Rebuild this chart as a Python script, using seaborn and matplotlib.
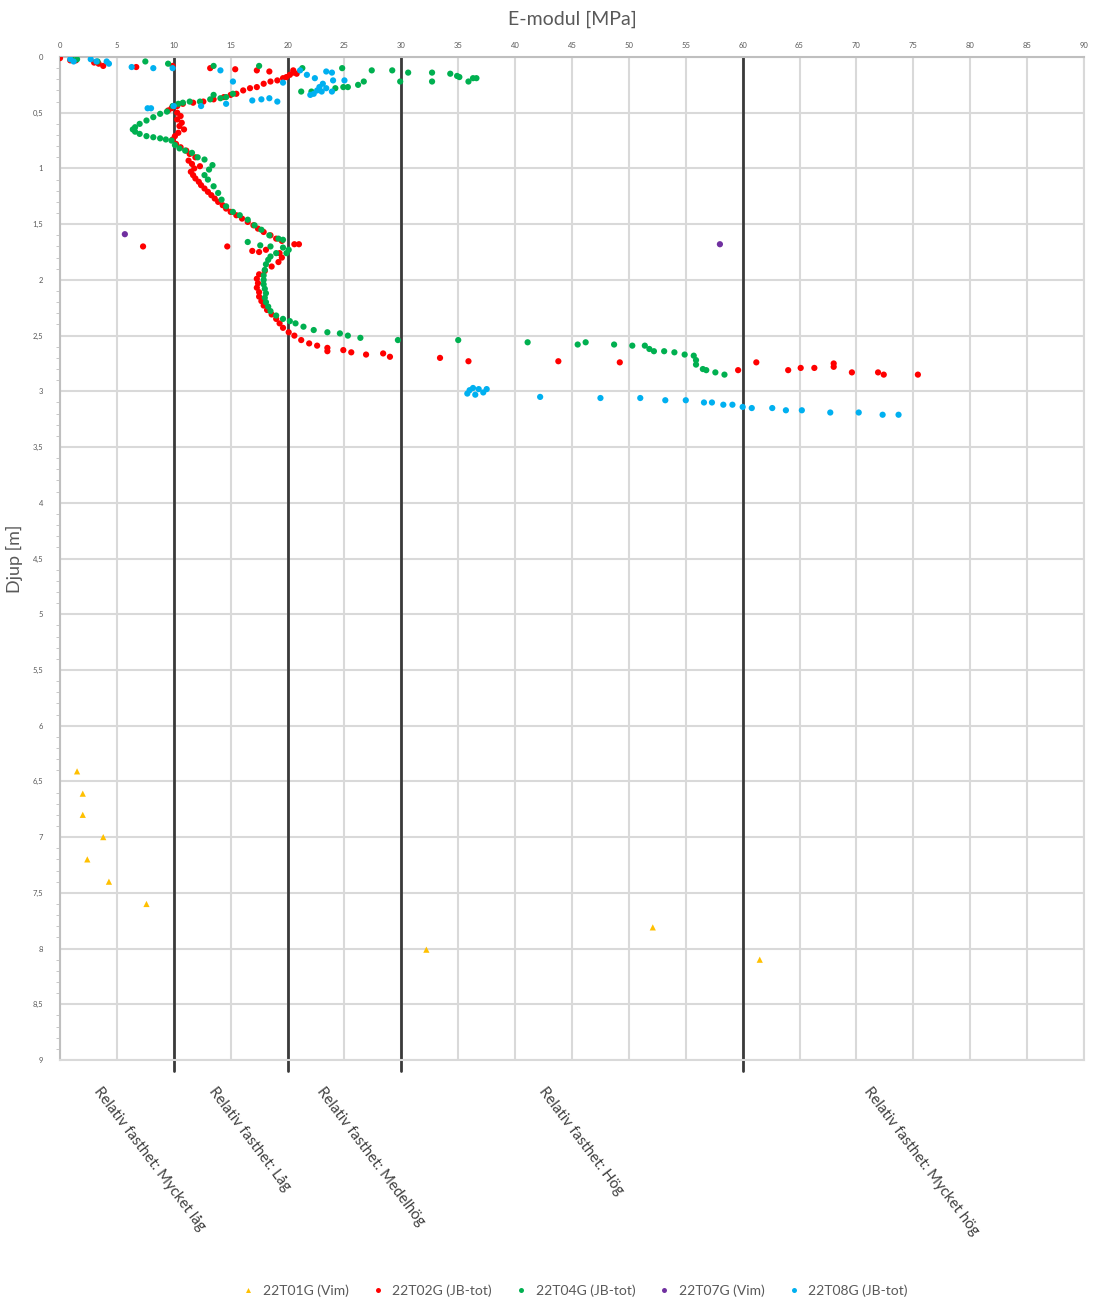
import matplotlib
matplotlib.use("Agg")
import matplotlib.pyplot as plt
from matplotlib.ticker import MultipleLocator, FuncFormatter
import pandas as pd
import seaborn as sns

# 22T01G (Vim) - yellow triangles
t01_E = [1.5, 2.0, 2.0, 3.8, 2.4, 4.3, 7.6, 32.2, 52.1, 61.5]
t01_d = [6.41, 6.61, 6.80, 7.00, 7.20, 7.40, 7.60, 8.01, 7.81, 8.10]

# 22T07G (Vim) - purple
t07_E = [5.7, 58.0]
t07_d = [1.59, 1.68]

# 22T02G (JB-tot) - red
t02_E = [0.0, 0.9, 1.4, 3.0, 3.4, 3.8, 6.7, 9.9, 13.2, 15.4, 17.3, 18.4,
         20.5, 20.8, 20.2, 20.5, 19.9, 19.6, 19.1, 18.5, 17.9, 17.3, 16.7, 16.1,
         15.5, 15.0, 14.4, 13.5, 12.6, 11.7, 10.8, 10.3, 9.8, 9.5,
         10.3, 10.6, 10.3, 10.7, 10.5, 10.9, 10.4, 10.1, 9.9, 10.2, 10.6, 11.1,
         11.4, 11.9, 11.3, 11.6, 12.3, 11.8, 11.5, 11.7, 11.9, 12.2, 12.4, 12.7,
         13.0, 13.3, 13.6, 13.9, 14.3, 14.6, 15.0, 15.5, 16.0, 16.5, 17.0, 17.4,
         17.9, 18.5, 19.0, 19.5,
         7.3, 14.7, 20.6, 21.0,
         16.9, 17.5, 18.1, 19.3, 19.5, 19.2, 18.6, 18.0, 17.5, 17.3, 17.4, 17.3,
         17.5, 17.5, 17.7, 17.9, 18.2, 18.6, 19.0, 19.3, 19.6, 20.1, 20.6, 21.2,
         21.9, 22.6, 23.5, 23.5, 24.9, 25.6, 26.9, 28.4, 29.0, 33.4, 35.9, 43.8,
         49.2, 59.6, 61.2, 64.0, 65.1, 66.3, 68.0, 68.0, 69.6, 71.9, 72.4, 75.4]
t02_d = [0.01, 0.03, 0.03, 0.05, 0.06, 0.08, 0.09, 0.08, 0.10, 0.11, 0.12, 0.13,
         0.12, 0.15, 0.16, 0.14, 0.18, 0.19, 0.21, 0.22, 0.24, 0.27, 0.28, 0.30,
         0.33, 0.34, 0.36, 0.38, 0.40, 0.41, 0.42, 0.44, 0.46, 0.48,
         0.50, 0.53, 0.56, 0.59, 0.62, 0.65, 0.68, 0.71, 0.74, 0.78, 0.81, 0.84,
         0.87, 0.90, 0.93, 0.96, 0.98, 1.00, 1.03, 1.06, 1.09, 1.12, 1.15, 1.18,
         1.21, 1.24, 1.27, 1.30, 1.33, 1.36, 1.39, 1.42, 1.45, 1.48, 1.51, 1.54,
         1.57, 1.60, 1.63, 1.65,
         1.70, 1.70, 1.68, 1.68,
         1.74, 1.75, 1.73, 1.76, 1.80, 1.84, 1.88, 1.92, 1.95, 1.99, 2.03, 2.07,
         2.11, 2.15, 2.19, 2.23, 2.27, 2.31, 2.35, 2.39, 2.43, 2.47, 2.50, 2.54,
         2.57, 2.59, 2.61, 2.64, 2.63, 2.65, 2.67, 2.66, 2.69, 2.70, 2.73, 2.73,
         2.74, 2.81, 2.74, 2.81, 2.79, 2.79, 2.75, 2.78, 2.83, 2.83, 2.85, 2.85]

# 22T04G (JB-tot) - green
t04_E = [1.0, 1.5, 3.3, 7.5, 9.5, 13.5, 17.5,
         21.3, 24.8, 27.4, 29.2, 30.6, 32.7, 32.7, 34.3, 34.9, 35.1, 35.9, 36.3, 36.6,
         29.9, 26.7, 26.2, 25.3, 24.9, 24.2, 22.1, 21.2,
         15.2, 14.6, 14.1, 13.5, 13.2, 12.3, 11.4, 10.8, 10.4, 9.9,
         9.4, 8.8, 8.2, 7.6, 7.0, 6.6, 6.4, 6.6, 7.0, 7.6, 8.2, 8.8, 9.3, 9.8,
         10.1, 10.5, 11.0, 11.6, 12.1, 12.7, 13.4, 13.1, 12.7, 13.0, 13.5, 13.9,
         14.2, 14.6, 15.2, 15.8, 16.5, 17.1, 17.7, 18.4, 19.2, 19.6,
         16.5, 17.6, 18.5, 19.6, 20.1, 19.9, 19.0, 18.5, 18.3, 18.1, 18.0, 17.9,
         17.9, 17.9, 18.0, 18.1, 18.0, 18.1, 18.3, 18.5, 19.0, 19.6, 20.2, 20.7,
         21.4, 22.3, 23.5, 24.6, 25.3, 26.4, 29.7, 35.0, 41.1, 45.5, 46.2, 48.7,
         50.3, 51.4, 51.8, 52.2, 53.1, 54.0, 54.9, 55.7, 55.9, 55.9, 56.5, 56.8,
         57.6, 58.4]
t04_d = [0.01, 0.02, 0.04, 0.04, 0.06, 0.08, 0.08,
         0.10, 0.10, 0.12, 0.12, 0.14, 0.14, 0.22, 0.15, 0.17, 0.18, 0.22, 0.19, 0.19,
         0.22, 0.22, 0.25, 0.27, 0.27, 0.28, 0.31, 0.31,
         0.33, 0.36, 0.37, 0.34, 0.38, 0.40, 0.40, 0.41, 0.42, 0.44,
         0.49, 0.51, 0.54, 0.57, 0.60, 0.63, 0.65, 0.67, 0.69, 0.71, 0.72, 0.73, 0.74, 0.75,
         0.79, 0.82, 0.84, 0.86, 0.90, 0.92, 0.97, 1.01, 1.06, 1.10, 1.16, 1.22,
         1.28, 1.34, 1.39, 1.42, 1.46, 1.51, 1.55, 1.60, 1.63, 1.64,
         1.66, 1.69, 1.70, 1.71, 1.73, 1.76, 1.76, 1.79, 1.82, 1.86, 1.91, 1.96,
         2.00, 2.04, 2.08, 2.12, 2.16, 2.20, 2.24, 2.28, 2.32, 2.35, 2.37, 2.39,
         2.42, 2.45, 2.47, 2.48, 2.50, 2.52, 2.54, 2.54, 2.56, 2.58, 2.56, 2.58,
         2.59, 2.59, 2.62, 2.64, 2.64, 2.65, 2.67, 2.68, 2.72, 2.76, 2.80, 2.81,
         2.83, 2.85]

# 22T08G (JB-tot) - blue
t08_E = [0.9, 1.2, 2.7, 3.2, 4.1, 4.3, 6.3, 8.2, 9.9, 14.1, 15.2, 7.7, 8.0, 10.0,
         12.4, 14.6, 16.9, 17.7, 18.4, 19.1,
         21.1, 21.7, 22.4, 23.4, 23.9, 24.0, 25.0, 23.1, 22.8, 22.6, 22.3, 22.0,
         23.4, 23.0, 23.9, 19.6,
         35.8, 36.0, 36.3, 36.5, 36.8, 37.2, 37.5, 42.2, 47.5, 51.0, 53.2, 55.0,
         56.6, 57.3, 58.3, 59.1, 60.0, 60.8, 62.6, 63.8, 65.2, 67.7, 70.2, 72.3, 73.7]
t08_d = [0.02, 0.04, 0.02, 0.04, 0.04, 0.06, 0.09, 0.10, 0.10, 0.12, 0.22, 0.46, 0.46, 0.44,
         0.44, 0.42, 0.39, 0.38, 0.37, 0.40,
         0.12, 0.16, 0.19, 0.13, 0.14, 0.21, 0.21, 0.24, 0.27, 0.30, 0.33, 0.34,
         0.28, 0.31, 0.31, 0.23,
         3.02, 2.99, 2.97, 3.03, 2.98, 3.01, 2.98, 3.05, 3.06, 3.06, 3.08, 3.08,
         3.10, 3.10, 3.12, 3.12, 3.14, 3.15, 3.15, 3.17, 3.17, 3.19, 3.19, 3.21, 3.21]

series_names = ["22T01G (Vim)", "22T02G (JB-tot)", "22T04G (JB-tot)", "22T07G (Vim)", "22T08G (JB-tot)"]
series_colors = ["#FFC000", "#FF0000", "#00B050", "#7030A0", "#00B0F0"]

boundaries = [10, 20, 30, 60]
class_labels = ["Relativ fasthet: Mycket låg", "Relativ fasthet: Låg", "Relativ fasthet: Medelhög",
                "Relativ fasthet: Hög", "Relativ fasthet: Mycket hög"]
class_label_x = [3.7, 13.8, 23.3, 42.8, 71.4]

frames = []
for name, E, d in zip(series_names,
                      [t01_E, t02_E, t04_E, t07_E, t08_E],
                      [t01_d, t02_d, t04_d, t07_d, t08_d]):
    frames.append(pd.DataFrame({"E": E, "depth": d, "serie": name}))
df = pd.concat(frames, ignore_index=True)

sns.set_style("white")
plt.rcParams["font.family"] = ["Lato", "DejaVu Sans"]

fig = plt.figure(figsize=(10.94, 13.04), dpi=100)
ax = fig.add_axes([60 / 1094, 1 - 1060 / 1304, 1024 / 1094, 1003 / 1304])

markers = {n: ("^" if n.startswith("22T01") else "o") for n in series_names}
sns.scatterplot(data=df, x="E", y="depth", hue="serie", style="serie",
                hue_order=series_names, style_order=series_names,
                palette=dict(zip(series_names, series_colors)), markers=markers,
                s=20, linewidth=0, ax=ax, zorder=3)

ax.set_xlim(0, 90)
ax.set_ylim(9, 0)
ax.xaxis.tick_top()
ax.xaxis.set_label_position("top")
ax.xaxis.set_major_locator(MultipleLocator(5))
ax.yaxis.set_major_locator(MultipleLocator(0.5))
ax.yaxis.set_minor_locator(MultipleLocator(0.1))
ax.yaxis.set_major_formatter(FuncFormatter(lambda v, p: f"{v:g}".replace(".", ",")))
ax.tick_params(axis="x", length=0, labelsize=5.5, labelcolor="#595959", pad=6)
ax.tick_params(axis="y", which="major", length=0, labelsize=5.5, labelcolor="#595959", pad=12)
ax.tick_params(axis="y", which="minor", left=True, length=3, width=0.6, color="#bfbfbf", direction="out")
ax.grid(True, which="major", color="#d9d9d9", linewidth=1.5)
ax.set_axisbelow(True)
for side, sp in ax.spines.items():
    sp.set_color("#bfbfbf" if side in ("left", "top") else "#d9d9d9")
    sp.set_linewidth(1.5)

ax.set_xlabel("E-modul [MPa]", fontsize=14, color="#595959", labelpad=12)
ax.set_ylabel("Djup [m]", fontsize=13, color="#595959")
ax.yaxis.set_label_coords(-0.036, 0.5)

for b in boundaries:
    ax.axvline(b, ymin=-0.011, ymax=1, color="#3a3a3a", linewidth=2, clip_on=False, zorder=2)

for lx, lab in zip(class_label_x, class_labels):
    ax.text(lx, 9.22, lab, rotation=-53, rotation_mode="anchor", ha="left", va="top",
            fontsize=10.8, color="#404040", clip_on=False)

sns.move_legend(ax, "center", bbox_to_anchor=(0.499, -0.230), ncol=5, frameon=False,
                title=None, fontsize=10, handletextpad=0.05, columnspacing=1.1, markerscale=0.8)
for t in ax.get_legend().get_texts():
    t.set_color("#595959")

fig.savefig("out.png", dpi=100)
